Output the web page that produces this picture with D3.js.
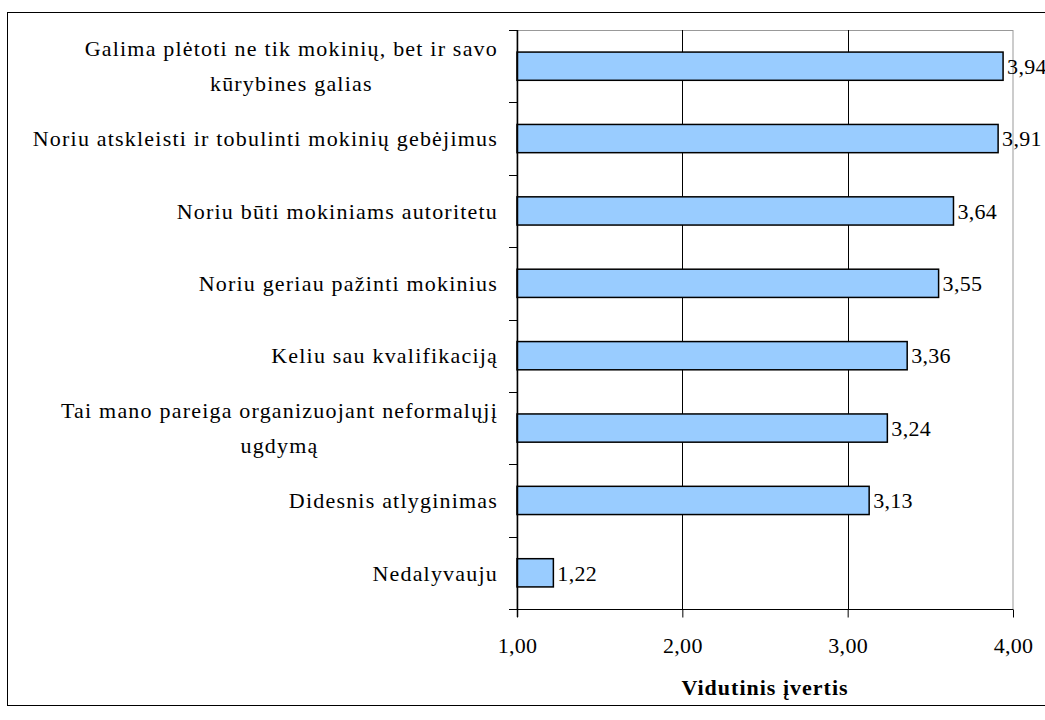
<!DOCTYPE html>
<html><head><meta charset="utf-8">
<script src="https://cdn.jsdelivr.net/npm/d3@7"></script>
<style>body{margin:0;background:#fff}svg{display:block}</style>
</head><body><svg id="c" width="1045" height="720"></svg>
<script>
const categories = [
  ["Galima plėtoti ne tik mokinių, bet ir savo","kūrybines galias"],
  ["Noriu atskleisti ir tobulinti mokinių gebėjimus"],
  ["Noriu būti mokiniams autoritetu"],
  ["Noriu geriau pažinti mokinius"],
  ["Keliu sau kvalifikaciją"],
  ["Tai mano pareiga organizuojant neformalųjį","ugdymą"],
  ["Didesnis atlyginimas"],
  ["Nedalyvauju"]
];
const values = [3.94, 3.91, 3.64, 3.55, 3.36, 3.24, 3.13, 1.22];
const xTicks = [1, 2, 3, 4];
const xTitle = "Vidutinis įvertis";

const svg = d3.select("#c");
const FONT = "'Liberation Serif'";
const styleText = sel => sel.style("font-family",FONT).style("font-size","22px").style("letter-spacing","1.2px").style("fill","#000");
const L = 517, R = 1013, T = 30, B = 609;
const fmt = v => v.toFixed(2).replace(".", ",");

svg.append("rect").attr("x",7.5).attr("y",12.5).attr("width",1045).attr("height",693)
  .attr("fill","none").attr("stroke","#000").attr("stroke-width",1);

const x = d3.scaleLinear().domain([1,4]).range([L,R]);
const y = d3.scaleBand().domain(d3.range(categories.length)).range([T,B]).paddingInner(0.61).paddingOuter(0.305);
const yb = d3.scaleBand().domain(d3.range(categories.length)).range([T,B]);

svg.append("rect").attr("x",L).attr("y",T+0.5).attr("width",R-L).attr("height",B-T)
  .attr("fill","none").attr("stroke","#999").attr("stroke-width",1);

svg.append("g").selectAll("line").data(xTicks.filter(t=>t>1 && t<4)).join("line")
  .attr("x1",d=>Math.round(x(d))+0.5).attr("x2",d=>Math.round(x(d))+0.5)
  .attr("y1",T).attr("y2",B).attr("stroke","#000").attr("stroke-width",1);

svg.append("g").selectAll("rect").data(values).join("rect")
  .attr("x",x(1)).attr("y",(d,i)=>y(i)).attr("width",d=>x(d)-x(1)).attr("height",y.bandwidth())
  .attr("fill","#99ccff").attr("stroke","#000").attr("stroke-width",1.5);

svg.append("g").selectAll("text").data(values).join("text")
  .attr("x",d=>x(d)+4).attr("y",(d,i)=>y(i)+y.bandwidth()/2).attr("dy","0.35em")
  .call(styleText).style("letter-spacing","0.3px").text(d=>fmt(d));

const xa = svg.append("g").attr("transform",`translate(0,${B+0.5})`)
  .call(d3.axisBottom(x).tickValues(xTicks).tickSize(8).tickPadding(20).tickFormat(fmt));
xa.select(".domain").attr("stroke","#000").attr("d",`M${L-8},0H${R}`);
xa.selectAll("line").attr("stroke","#000");
xa.selectAll("text").call(styleText).style("letter-spacing","0.3px");

svg.append("line").attr("x1",L+0.5).attr("x2",L+0.5).attr("y1",T).attr("y2",B+8).attr("stroke","#000").attr("stroke-width",1.5);
svg.append("g").selectAll("line").data(d3.range(categories.length+1)).join("line")
  .attr("x1",L-8).attr("x2",L).attr("y1",i=>Math.round(T+i*yb.step())+0.5).attr("y2",i=>Math.round(T+i*yb.step())+0.5)
  .attr("stroke","#000");

const cl = svg.append("g").selectAll("text").data(categories).join("text")
  .call(styleText).attr("text-anchor","middle");
cl.each(function(lines,i){
  const t = d3.select(this);
  const cy = yb(i)+yb.bandwidth()/2;
  const lh = 35;
  lines.forEach((ln,j)=>{
    t.append("tspan").attr("x", 0).attr("y", cy + (j-(lines.length-1)/2)*lh).attr("dy","0.35em").text(ln);
  });
});
cl.each(function(){
  const t = d3.select(this);
  const w = this.getBBox().width;
  t.selectAll("tspan").attr("x", 498 - w/2);
});

svg.append("text").attr("x",(L+R)/2).attr("y",695).attr("text-anchor","middle")
  .call(styleText).style("font-size","22px").style("letter-spacing","1px").style("font-weight","bold").text(xTitle);
</script></body></html>
